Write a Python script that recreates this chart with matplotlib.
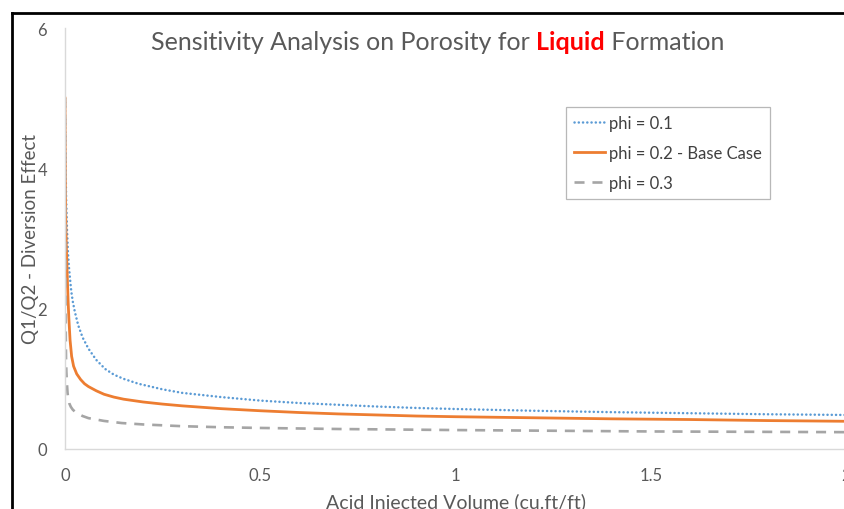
import matplotlib
matplotlib.use("Agg")
import matplotlib.pyplot as plt
from matplotlib.lines import Line2D
from matplotlib.offsetbox import TextArea, HPacker, AnnotationBbox

plt.rcParams['font.family'] = ['Lato', 'DejaVu Sans']

# Acid injected volume (cu.ft/ft) and the diversion ratio Q1/Q2 per porosity case
vol_phi01 = [0, 0.0005, 0.001, 0.002, 0.003, 0.005, 0.0075, 0.01, 0.0128, 0.016,
             0.02, 0.025, 0.034, 0.045, 0.06, 0.08, 0.103, 0.125, 0.15, 0.188,
             0.25, 0.3, 0.4, 0.5, 0.6, 0.7, 0.8, 0.9, 1.0, 1.2, 1.4, 1.6, 1.8, 2.0]
q_phi01 = [5.0, 4.6, 4.3, 3.85, 3.55, 3.15, 2.8, 2.6, 2.43, 2.25,
           2.1, 1.96, 1.76, 1.59, 1.43, 1.27, 1.14, 1.06, 1.0, 0.93,
           0.85, 0.80, 0.74, 0.69, 0.655, 0.63, 0.605, 0.585, 0.57, 0.545, 0.525,
           0.51, 0.495, 0.485]

vol_phi02 = [0, 0.0005, 0.001, 0.002, 0.003, 0.0044, 0.006, 0.008, 0.01, 0.013,
             0.017, 0.022, 0.03, 0.04, 0.05, 0.06, 0.08, 0.1, 0.125, 0.15,
             0.2, 0.25, 0.3, 0.4, 0.5, 0.6, 0.7, 0.8, 0.9, 1.0, 1.2, 1.4, 1.6, 1.8, 2.0]
q_phi02 = [5.0, 4.2, 3.75, 3.25, 2.95, 2.71, 2.43, 2.1, 1.85, 1.55,
           1.32, 1.18, 1.07, 0.99, 0.93, 0.89, 0.83, 0.78, 0.74, 0.71,
           0.67, 0.64, 0.615, 0.575, 0.545, 0.52, 0.50, 0.485, 0.47, 0.46, 0.445,
           0.43, 0.42, 0.405, 0.395]

vol_phi03 = [0, 0.0002, 0.0005, 0.001, 0.0015, 0.002, 0.0026, 0.0035, 0.005, 0.0065,
             0.0085, 0.011, 0.015, 0.02, 0.026, 0.035, 0.045, 0.06, 0.08, 0.1,
             0.145, 0.2, 0.3, 0.4, 0.5, 0.7, 1.0, 1.25, 1.5, 1.75, 2.0]
q_phi03 = [5.0, 4.0, 3.0, 2.3, 1.9, 1.6, 1.29, 1.1, 0.93, 0.8,
           0.71, 0.65, 0.60, 0.56, 0.53, 0.50, 0.47, 0.44, 0.42, 0.40,
           0.37, 0.35, 0.325, 0.31, 0.30, 0.285, 0.27, 0.26, 0.25, 0.245, 0.24]

labels = ["phi = 0.1", "phi = 0.2 - Base Case", "phi = 0.3"]
x_ticks = [0, 0.5, 1, 1.5, 2]
x_tick_labels = ["0", "0.5", "1", "1.5", "2"]
y_ticks = [0, 2, 4, 6]
y_tick_labels = ["0", "2", "4", "6"]

W, H = 844, 510
fig = plt.figure(figsize=(W / 100, H / 100), dpi=100)
fig.patch.set_facecolor("white")

ax = fig.add_axes([65 / W, 60 / H, (846 - 65) / W, 421 / H])

ax.plot(vol_phi01, q_phi01, color="#5B9BD5", lw=1.8, dashes=(0.05, 1.65),
        dash_capstyle="round", label=labels[0])
ax.plot(vol_phi02, q_phi02, color="#ED7D31", lw=2.0, label=labels[1])
ax.plot(vol_phi03, q_phi03, color="#A5A5A5", lw=1.9, dashes=(3.8, 3),
        label=labels[2])

ax.set_xlim(0, 2)
ax.set_ylim(0, 6)
ax.set_xticks(x_ticks, x_tick_labels)
ax.set_yticks(y_ticks, y_tick_labels)
ax.tick_params(length=0, labelsize=12, labelcolor="#595959")
ax.tick_params(axis="x", pad=13)
ax.tick_params(axis="y", pad=13)

for side in ("top", "right"):
    ax.spines[side].set_visible(False)
for side in ("left", "bottom"):
    ax.spines[side].set_color("#D9D9D9")
    ax.spines[side].set_linewidth(1.0)

ax.set_xlabel("Acid Injected Volume (cu.ft/ft)", fontsize=14, color="#595959",
              labelpad=7)
ax.set_ylabel("Q1/Q2 - Diversion Effect", fontsize=13.5, color="#595959", va="center")
ax.yaxis.set_label_coords((31 - 65) / 781, 0.5)

leg = ax.legend(loc="upper left", bbox_to_anchor=(566 / W, 1 - 108 / H),
                bbox_transform=fig.transFigure, borderaxespad=0, fontsize=12,
                frameon=True, fancybox=False, handlelength=1.9, handletextpad=0.25,
                labelspacing=0.86, borderpad=0.45)
leg.get_frame().set_edgecolor("#A6A6A6")
leg.get_frame().set_linewidth(0.9)
for t in leg.get_texts():
    t.set_color("#404040")

# Title with the highlighted formation type
parts = [TextArea("Sensitivity Analysis on Porosity for ",
                  textprops=dict(color="#595959", fontsize=18)),
         TextArea("Liquid", textprops=dict(color="#FF0000", fontsize=18,
                                           fontweight="bold")),
         TextArea(" Formation", textprops=dict(color="#595959", fontsize=18))]
title_box = HPacker(children=parts, align="baseline", pad=0, sep=0)
ab = AnnotationBbox(title_box, (437.5 / W, 1 - 43 / H), xycoords="figure fraction",
                    frameon=False, box_alignment=(0.5, 0.5))
fig.add_artist(ab)

# Chart frame (left and top edges)
frame_kw = dict(transform=fig.transFigure, color="black", lw=2.0,
                solid_capstyle="projecting")
fig.add_artist(Line2D([12 / W, 12 / W], [0, 1 - 14 / H], **frame_kw))
fig.add_artist(Line2D([12 / W, 1.01], [1 - 14 / H, 1 - 14 / H], **frame_kw))

fig.savefig("out.png", dpi=100, facecolor="white")
